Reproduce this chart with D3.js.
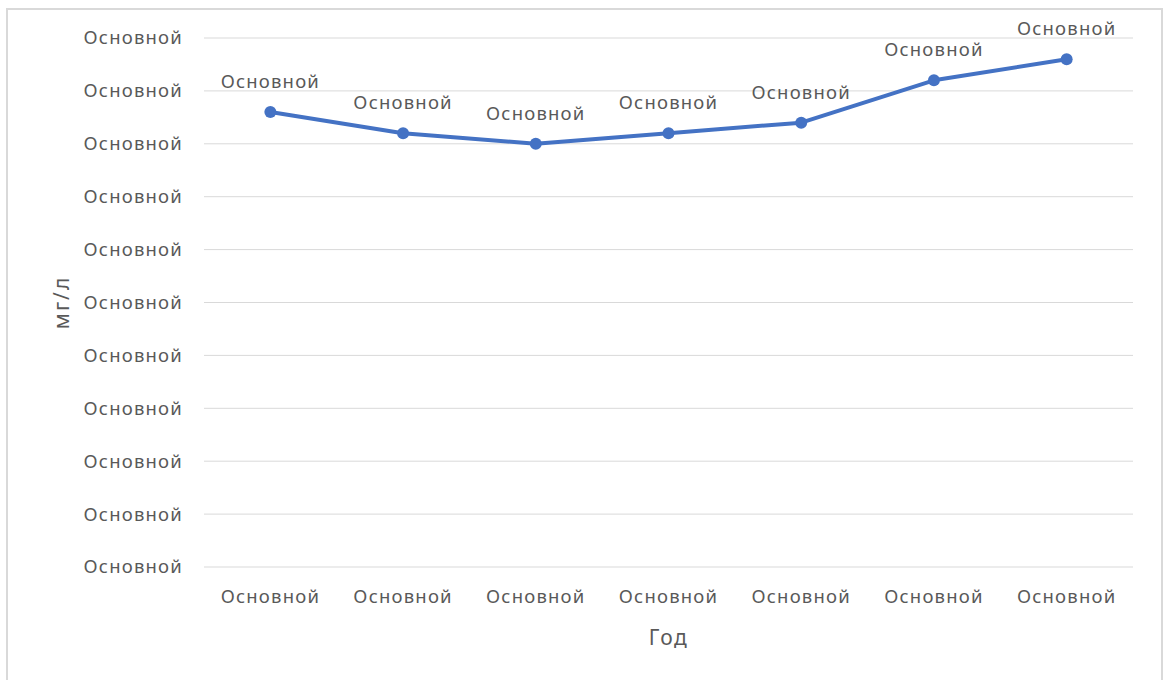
<!DOCTYPE html>
<html>
<head>
<meta charset="utf-8">
<script src="https://cdn.jsdelivr.net/npm/d3@7"></script>
<style>
  html, body { margin: 0; padding: 0; background: #fff; }
  svg text { font-family: "Noto Sans", "Open Sans", sans-serif; fill: #595959; }
</style>
</head>
<body>
<svg id="chart" width="1168" height="680"></svg>
<script>
// Years along the x axis (shown with the "General" number format label)
const years = ["Основной", "Основной", "Основной", "Основной", "Основной", "Основной", "Основной"];
// Concentration per year, mg/l
const values = [8.6, 8.2, 8.0, 8.2, 8.4, 9.2, 9.6];
// Value axis ticks
const yTicks = [0, 1, 2, 3, 4, 5, 6, 7, 8, 9, 10];
const tickLabel = "Основной";
const pointLabel = "Основной";
const xTitle = "Год";
const yTitle = "мг/л";

const svg = d3.select("#chart");
const margin = { left: 204, right: 35, top: 38, bottom: 113 };
const W = 1168, H = 680;
const labelSize = 18.5, labelSpacing = 1.2;

// chart area frame
svg.append("rect")
  .attr("x", 7).attr("y", 9)
  .attr("width", 1155).attr("height", 690)
  .attr("fill", "#fff")
  .attr("stroke", "#d9d9d9").attr("stroke-width", 2);

const x = d3.scaleBand()
  .domain(d3.range(years.length))
  .range([margin.left, W - margin.right]);

const y = d3.scaleLinear()
  .domain([0, 10])
  .range([H - margin.bottom, margin.top]);

// horizontal gridlines
svg.append("g")
  .selectAll("line")
  .data(yTicks)
  .join("line")
  .attr("x1", margin.left).attr("x2", W - margin.right)
  .attr("y1", d => y(d)).attr("y2", d => y(d))
  .attr("stroke", "#d9d9d9").attr("stroke-width", 1);

// value axis labels
const yAxis = d3.axisLeft(y).tickValues(yTicks).tickSize(0).tickPadding(21).tickFormat(() => tickLabel);
svg.append("g")
  .attr("transform", `translate(${margin.left},0)`)
  .call(yAxis)
  .call(g => g.select(".domain").remove())
  .call(g => g.selectAll("text").attr("font-size", labelSize).attr("fill", "#595959")
    .style("font-family", "'Noto Sans', sans-serif").attr("letter-spacing", labelSpacing));

// category axis labels
const xAxis = d3.axisBottom(x).tickSize(0).tickPadding(23).tickFormat(i => years[i]);
svg.append("g")
  .attr("transform", `translate(0,${H - margin.bottom})`)
  .call(xAxis)
  .call(g => g.select(".domain").remove())
  .call(g => g.selectAll("text").attr("font-size", labelSize).attr("fill", "#595959")
    .style("font-family", "'Noto Sans', sans-serif").attr("letter-spacing", labelSpacing));

// axis titles
svg.append("text")
  .attr("x", (margin.left + W - margin.right) / 2)
  .attr("y", 645)
  .attr("text-anchor", "middle")
  .attr("font-size", 21)
  .attr("letter-spacing", 1.5)
  .text(xTitle);

svg.append("text")
  .attr("transform", `translate(69,${(margin.top + H - margin.bottom) / 2}) rotate(-90)`)
  .attr("text-anchor", "middle")
  .attr("font-size", 21)
  .attr("letter-spacing", 2)
  .text(yTitle);

// series line
const cx = i => x(i) + x.bandwidth() / 2;
const line = d3.line().x((d, i) => cx(i)).y(d => y(d));
svg.append("path")
  .datum(values)
  .attr("d", line)
  .attr("fill", "none")
  .attr("stroke", "#4472c4")
  .attr("stroke-width", 4)
  .attr("stroke-linejoin", "round")
  .attr("stroke-linecap", "round");

// markers
svg.append("g")
  .selectAll("circle")
  .data(values)
  .join("circle")
  .attr("cx", (d, i) => cx(i))
  .attr("cy", d => y(d))
  .attr("r", 6)
  .attr("fill", "#4472c4");

// data labels above each point
svg.append("g")
  .selectAll("text")
  .data(values)
  .join("text")
  .attr("x", (d, i) => cx(i))
  .attr("y", d => y(d) - 24)
  .attr("text-anchor", "middle")
  .attr("font-size", labelSize)
  .attr("letter-spacing", labelSpacing)
  .attr("fill", "#404040")
  .text(pointLabel);
</script>
</body>
</html>
